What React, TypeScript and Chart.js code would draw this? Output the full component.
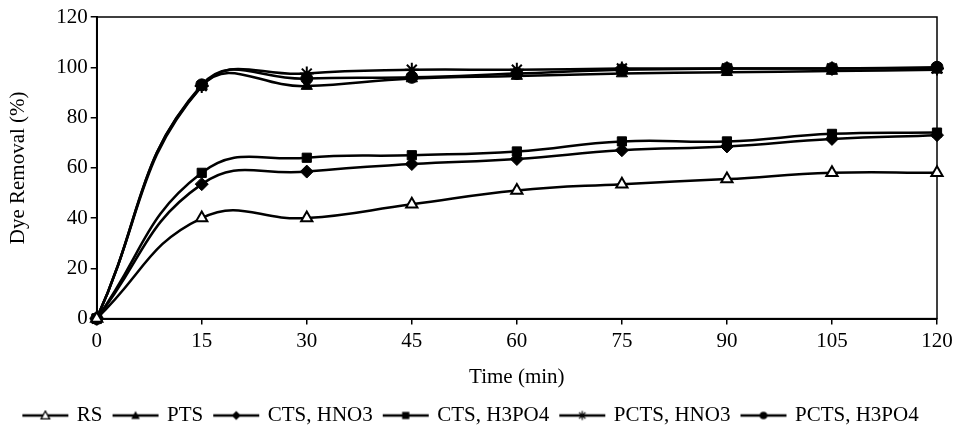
import React, { useEffect, useRef } from "react";
import { Chart, registerables } from "chart.js";

Chart.register(...registerables);

const timeMin = [0, 15, 30, 45, 60, 75, 90, 105, 120];
const rsValues = [0, 40, 40, 45.5, 51, 53.5, 55.5, 58, 58];
const ptsValues = [0, 92.5, 92.5, 95.5, 96.5, 97.5, 98, 98.5, 99];
const ctsHno3Values = [0, 53.5, 58.5, 61.5, 63.5, 67, 68.5, 71.5, 73];
const ctsH3po4Values = [0, 58, 64, 65, 66.5, 70.5, 70.5, 73.5, 74];
const pctsHno3Values = [0, 92.5, 97.5, 99, 99, 99.5, 99.5, 99.5, 99.5];
const pctsH3po4Values = [0, 93, 95.5, 96, 97.5, 99, 99.5, 99.5, 100];
const seriesLabels = ["RS", "PTS", "CTS, HNO3", "CTS, H3PO4", "PCTS, HNO3", "PCTS, H3PO4"];
const xTickValues = [0, 15, 30, 45, 60, 75, 90, 105, 120];
const yTickValues = [0, 20, 40, 60, 80, 100, 120];

const FONT = "'Liberation Serif', 'Times New Roman', serif";

type Marker = "triOpen" | "tri" | "diamond" | "square" | "star" | "circle";

function drawMarker(ctx: CanvasRenderingContext2D, m: Marker, cx: number, cy: number, r: number) {
  ctx.fillStyle = "#000";
  ctx.strokeStyle = "#000";
  ctx.beginPath();
  if (m === "triOpen" || m === "tri") {
    ctx.moveTo(cx, cy - r);
    ctx.lineTo(cx + r * 0.95, cy + r * 0.75);
    ctx.lineTo(cx - r * 0.95, cy + r * 0.75);
    ctx.closePath();
    if (m === "tri") ctx.fill();
    else {
      ctx.fillStyle = "#fff";
      ctx.fill();
      ctx.lineWidth = 1.3;
      ctx.stroke();
    }
  } else if (m === "diamond") {
    ctx.moveTo(cx, cy - r);
    ctx.lineTo(cx + r, cy);
    ctx.lineTo(cx, cy + r);
    ctx.lineTo(cx - r, cy);
    ctx.closePath();
    ctx.fill();
  } else if (m === "square") {
    ctx.rect(cx - r * 0.8, cy - r * 0.8, r * 1.6, r * 1.6);
    ctx.fill();
  } else if (m === "circle") {
    ctx.arc(cx, cy, r * 0.85, 0, Math.PI * 2);
    ctx.fill();
  } else if (m === "star") {
    ctx.lineWidth = 1.2;
    for (let i = 0; i < 4; i++) {
      const a = (i * Math.PI) / 4;
      ctx.moveTo(cx - Math.cos(a) * r, cy - Math.sin(a) * r);
      ctx.lineTo(cx + Math.cos(a) * r, cy + Math.sin(a) * r);
    }
    ctx.stroke();
  }
}

const LEGEND_IMG_W = 50;

function legendImage(m: Marker): HTMLCanvasElement {
  const c = document.createElement("canvas");
  c.width = LEGEND_IMG_W;
  c.height = 12;
  const ctx = c.getContext("2d")!;
  ctx.strokeStyle = "#000";
  ctx.lineWidth = 2.5;
  ctx.beginPath();
  ctx.moveTo(2, 6);
  ctx.lineTo(LEGEND_IMG_W - 2, 6);
  ctx.stroke();
  drawMarker(ctx, m, LEGEND_IMG_W / 2, 6, 4.5);
  return c;
}

const markers: Marker[] = ["triOpen", "tri", "diamond", "square", "star", "circle"];
const seriesValues = [rsValues, ptsValues, ctsHno3Values, ctsH3po4Values, pctsHno3Values, pctsH3po4Values];

const boxPlugin = {
  id: "plotBox",
  beforeDatasetsDraw(chart: any) {
    const { ctx, chartArea } = chart;
    const { left, top, right, bottom } = chartArea;
    ctx.save();
    ctx.strokeStyle = "#000";
    ctx.lineWidth = 1.5;
    ctx.strokeRect(left, top, right - left, bottom - top);
    ctx.restore();
  },
};

export default function App() {
  const ref = useRef<HTMLCanvasElement | null>(null);

  useEffect(() => {
    if (!ref.current) return;
    Chart.defaults.font.family = FONT;
    Chart.defaults.color = "#000";

    const styleFor = (i: number) => {
      const m = markers[i];
      switch (m) {
        case "triOpen":
          return { pointStyle: "triangle", pointRadius: 6.5, pointBackgroundColor: "#fff", pointBorderWidth: 2 };
        case "tri":
          return { pointStyle: "triangle", pointRadius: 6.5, pointBackgroundColor: "#000", pointBorderWidth: 1 };
        case "diamond":
          return { pointStyle: "rectRot", pointRadius: 6.5, pointBackgroundColor: "#000", pointBorderWidth: 1 };
        case "square":
          return { pointStyle: "rect", pointRadius: 6.5, pointBackgroundColor: "#000", pointBorderWidth: 1 };
        case "star":
          return { pointStyle: "star", pointRadius: 7, pointBackgroundColor: "#000", pointBorderWidth: 2 };
        default:
          return { pointStyle: "circle", pointRadius: 6, pointBackgroundColor: "#000", pointBorderWidth: 1 };
      }
    };

    const datasets = seriesLabels.map((label, i) => ({
      label,
      data: timeMin.map((t, j) => ({ x: t, y: seriesValues[i][j] })),
      borderColor: "#000",
      borderWidth: 2.5,
      pointBorderColor: "#000",
      tension: 0.45,
      clip: false as any,
      ...styleFor(i),
    }));

    const legendImgs = markers.map((m) => legendImage(m));

    const chart = new Chart(ref.current, {
      type: "line",
      data: { datasets: datasets as any },
      options: {
        animation: false,
        responsive: true,
        maintainAspectRatio: false,
        layout: { padding: { left: 6, right: 25, top: 17, bottom: 0 } },
        plugins: {
          tooltip: { enabled: false },
          legend: {
            position: "bottom",
            labels: {
              color: "#000",
              font: { size: 21, family: FONT },
              usePointStyle: true,
              pointStyleWidth: 42,
              padding: 12,
              generateLabels: () =>
                seriesLabels.map((text, i) => ({
                  text,
                  pointStyle: legendImgs[i] as any,
                  fillStyle: "#000",
                  strokeStyle: "#000",
                  lineWidth: 0,
                  hidden: false,
                  datasetIndex: i,
                  fontColor: "#000",
                })),
            },
          },
        },
        scales: {
          x: {
            type: "linear",
            min: 0,
            max: 120,
            afterBuildTicks: (scale: any) => {
              scale.ticks = xTickValues.map((v) => ({ value: v }));
            },
            grid: { drawOnChartArea: false, drawTicks: true, tickLength: 6, color: "#000", lineWidth: 1.5 },
            border: { color: "#000", width: 2 },
            ticks: { color: "#000", font: { size: 21, family: FONT }, padding: 4, maxRotation: 0 },
            title: { display: true, text: "Time (min)", color: "#000", font: { size: 21, family: FONT }, padding: { top: 7, bottom: 3 } },
          },
          y: {
            type: "linear",
            min: 0,
            max: 120,
            afterBuildTicks: (scale: any) => {
              scale.ticks = yTickValues.map((v) => ({ value: v }));
            },
            grid: { drawOnChartArea: false, drawTicks: true, tickLength: 6, color: "#000", lineWidth: 1.5 },
            border: { color: "#000", width: 2 },
            ticks: { color: "#000", font: { size: 21, family: FONT }, padding: 3 },
            title: { display: true, text: "Dye Removal (%)", color: "#000", font: { size: 21, family: FONT }, padding: { top: 0, bottom: 22 } },
          },
        },
      },
      plugins: [boxPlugin],
    });
    return () => chart.destroy();
  }, []);

  return (
    <div style={{ position: "fixed", left: 0, top: 0, width: 962, height: 436, background: "#fff" }}>
      <canvas ref={ref} />
    </div>
  );
}
